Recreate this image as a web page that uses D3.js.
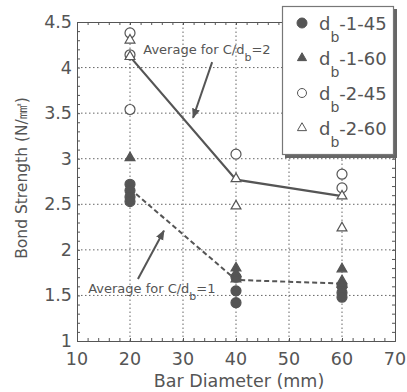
<!DOCTYPE html>
<html>
<head>
<meta charset="utf-8">
<script src="https://cdn.jsdelivr.net/npm/d3@7"></script>
<style>
  body { margin: 0; background: #fff; }
  text { font-family: "DejaVu Sans", sans-serif; fill: #555; }
</style>
</head>
<body>
<svg id="chart"></svg>
<script>
// tick values
const xTicks = [10, 20, 30, 40, 50, 60, 70];
const yTicks = [1, 1.5, 2, 2.5, 3, 3.5, 4, 4.5];

// measured bond strengths [bar diameter, strength]
const db145 = [[20, 2.72], [20, 2.65], [20, 2.58], [20, 2.53],
               [40, 1.70], [40, 1.55], [40, 1.42],
               [60, 1.60], [60, 1.53], [60, 1.48]];
const db160 = [[20, 3.01], [40, 1.80], [40, 1.74], [40, 1.68],
               [60, 1.79], [60, 1.66], [60, 1.62]];
const db245 = [[20, 4.38], [20, 4.14], [20, 3.54], [40, 3.05],
               [60, 2.83], [60, 2.68]];
const db260 = [[20, 4.30], [20, 4.12], [40, 2.78], [40, 2.48],
               [60, 2.59], [60, 2.24]];

// averages
const avg2 = [[20, 4.12], [40, 2.77], [60, 2.59]];
const avg1 = [[20, 2.67], [40, 1.67], [60, 1.63]];

const width = 407, height = 392;
const x0 = 77, x1 = 395, y0 = 341, y1 = 22;
const grey = "#555";

const svg = d3.select("#chart").attr("width", width).attr("height", height);

const x = d3.scaleLinear().domain([10, 70]).range([x0, x1]);
const y = d3.scaleLinear().domain([1, 4.5]).range([y0, y1]);

// grid
svg.append("g").selectAll("line")
  .data(xTicks.slice(1, -1)).enter().append("line")
  .attr("x1", d => x(d)).attr("x2", d => x(d))
  .attr("y1", y0).attr("y2", y1)
  .attr("stroke", "#666").attr("stroke-width", 1).attr("stroke-dasharray", "1.5,2.5");
svg.append("g").selectAll("line")
  .data(yTicks.slice(1, -1)).enter().append("line")
  .attr("y1", d => y(d)).attr("y2", d => y(d))
  .attr("x1", x0).attr("x2", x1)
  .attr("stroke", "#666").attr("stroke-width", 1).attr("stroke-dasharray", "1.5,2.5");

// frame + inward ticks on all sides
const axisG = svg.append("g");
axisG.append("g").attr("transform", `translate(0,${y0})`)
  .call(d3.axisTop(x).tickValues(d3.range(10, 70.1, 2)).tickSize(3).tickFormat(""));
axisG.append("g").attr("transform", `translate(0,${y1})`)
  .call(d3.axisBottom(x).tickValues(d3.range(10, 70.1, 2)).tickSize(3).tickFormat(""));
axisG.append("g").attr("transform", `translate(${x0},0)`)
  .call(d3.axisRight(y).tickValues(d3.range(1, 4.51, 0.1)).tickSize(3).tickFormat(""));
axisG.append("g").attr("transform", `translate(${x1},0)`)
  .call(d3.axisLeft(y).tickValues(d3.range(1, 4.51, 0.1)).tickSize(3).tickFormat(""));
axisG.selectAll("path,line").attr("stroke", grey);

// tick labels
svg.append("g").selectAll("text")
  .data(xTicks).enter().append("text")
  .attr("x", d => x(d)).attr("y", 365)
  .attr("text-anchor", "middle").attr("font-size", 17.5)
  .text(d => d);
svg.append("g").selectAll("text")
  .data(yTicks).enter().append("text")
  .attr("x", 72).attr("y", d => y(d) + 6)
  .attr("text-anchor", "end").attr("font-size", 17.5)
  .text(d => d);

// axis titles
svg.append("text")
  .attr("x", (x0 + x1) / 2 + 3).attr("y", 387)
  .attr("text-anchor", "middle").attr("font-size", 17.5)
  .text("Bar Diameter (mm)");
svg.append("text")
  .attr("transform", `translate(27,178) rotate(-90)`)
  .attr("text-anchor", "middle").attr("font-size", 15.5)
  .text("Bond Strength (N/㎟)");

// average lines
const line = d3.line().x(d => x(d[0])).y(d => y(d[1]));
svg.append("path").datum(avg2).attr("d", line)
  .attr("fill", "none").attr("stroke", grey).attr("stroke-width", 2.2);
svg.append("path").datum(avg1).attr("d", line)
  .attr("fill", "none").attr("stroke", grey).attr("stroke-width", 2)
  .attr("stroke-dasharray", "5,3");

// markers
const tri = d3.symbol().type(d3.symbolTriangle).size(42);
function circles(data, filled) {
  svg.append("g").selectAll("circle").data(data).enter().append("circle")
    .attr("cx", d => x(d[0])).attr("cy", d => y(d[1])).attr("r", 5)
    .attr("fill", filled ? grey : "#fff").attr("stroke", grey).attr("stroke-width", 1.2);
}
function triangles(data, filled) {
  svg.append("g").selectAll("path").data(data).enter().append("path")
    .attr("d", tri)
    .attr("transform", d => `translate(${x(d[0])},${y(d[1])})`)
    .attr("fill", filled ? grey : "#fff").attr("stroke", grey).attr("stroke-width", 1.2);
}
circles(db245, false);
triangles(db260, false);
circles(db145, true);
triangles(db160, true);

// annotations
svg.append("defs").append("marker")
  .attr("id", "arrow").attr("viewBox", "0 0 10 10")
  .attr("refX", 9).attr("refY", 5)
  .attr("markerWidth", 5).attr("markerHeight", 5)
  .attr("orient", "auto")
  .append("path").attr("d", "M0,1L10,5L0,9Z").attr("fill", grey);

function note(tx, ty, ratio, ax, ay, bx, by) {
  const t = svg.append("text").attr("x", x(tx)).attr("y", y(ty)).attr("font-size", 13);
  t.append("tspan").text("Average for C/d");
  t.append("tspan").attr("dy", 7).attr("font-size", 11).text("b");
  t.append("tspan").attr("dy", -7).text("=" + ratio);
  svg.append("line")
    .attr("x1", x(ax)).attr("y1", y(ay)).attr("x2", x(bx)).attr("y2", y(by))
    .attr("stroke", grey).attr("stroke-width", 2).attr("marker-end", "url(#arrow)");
}
note(22.5, 4.15, 2, 35.5, 4.06, 31.9, 3.45);
note(12.1, 1.525, 1, 21.5, 1.68, 26.4, 2.21);

// legend
const legendItems = [
  { label: "-1-45", shape: "circle", filled: true },
  { label: "-1-60", shape: "triangle", filled: true },
  { label: "-2-45", shape: "circle", filled: false },
  { label: "-2-60", shape: "triangle", filled: false }
];
const lg = svg.append("g");
lg.append("rect").attr("x", 285).attr("y", 9).attr("width", 112).attr("height", 149).attr("fill", "#666");
lg.append("rect").attr("x", 282.5).attr("y", 6.5).attr("width", 111).attr("height", 148)
  .attr("fill", "#fff").attr("stroke", "#777").attr("stroke-width", 1.2);
legendItems.forEach((d, i) => {
  const cy = 23 + i * 35;
  if (d.shape === "circle") {
    lg.append("circle").attr("cx", 302).attr("cy", cy).attr("r", d.filled ? 5 : 4.5)
      .attr("fill", d.filled ? grey : "#fff").attr("stroke", grey).attr("stroke-width", 1);
  } else {
    lg.append("path").attr("d", d3.symbol().type(d3.symbolTriangle).size(36))
      .attr("transform", `translate(302,${cy})`)
      .attr("fill", d.filled ? grey : "#fff").attr("stroke", grey).attr("stroke-width", 1);
  }
  const t = lg.append("text").attr("x", 319).attr("y", cy + 7).attr("font-size", 18);
  t.append("tspan").text("d");
  t.append("tspan").attr("dy", 12).attr("font-size", 14).text("b");
  t.append("tspan").attr("dy", -12).text(d.label);
});
</script>
</body>
</html>
